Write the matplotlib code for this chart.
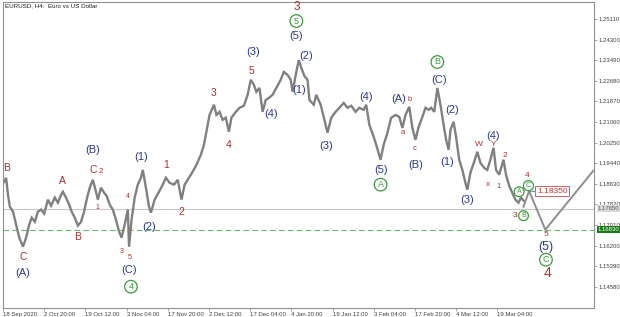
import matplotlib
matplotlib.use("Agg")
import matplotlib.pyplot as plt
import matplotlib.transforms as mtransforms

plt.rcParams['font.family'] = ['Liberation Sans', 'DejaVu Sans']

# H4 bar index (0 = 18 Sep 2020) and traced close prices
bars = [2, 5, 8, 11, 16, 21, 26, 32, 37, 42, 46, 51, 56, 61, 66, 72, 77, 83, 88, 93,
        96, 101, 106, 110, 115, 120, 125, 130, 134, 139, 144, 149, 152, 157, 162, 166,
        171, 176, 181, 186, 190, 195, 200, 202, 206, 211, 216, 221, 224, 229, 234, 237,
        243, 250, 256, 261, 267, 274, 280, 286, 291, 298, 304, 310, 317, 322, 326, 331,
        338, 342, 347, 352, 357, 362, 366, 373, 379, 386, 392, 397, 402, 406, 411, 416,
        421, 426, 432, 438, 445, 450, 456, 461, 464, 470, 474, 478, 483, 488, 491, 498,
        502, 509, 515, 520, 526, 533, 539, 546, 552, 558, 565, 571, 578, 582, 587, 594,
        598, 605, 610, 616, 622, 629, 635, 640, 645, 651, 656, 661, 666, 672, 677, 682,
        686, 691, 696, 701, 706, 710, 714, 717, 722, 726, 731, 736, 741, 744, 749, 755,
        760, 765, 771, 776, 781, 786, 790, 795, 802, 806, 811, 816, 821, 826, 830, 834]
close = [1.1871, 1.1887, 1.1820, 1.1773, 1.1754, 1.1703, 1.1652, 1.1616, 1.1652, 1.1703,
         1.1730, 1.1714, 1.1754, 1.1762, 1.1746, 1.1801, 1.1777, 1.1809, 1.1789, 1.1820,
         1.1832, 1.1809, 1.1781, 1.1754, 1.1730, 1.1699, 1.1714, 1.1754, 1.1801, 1.1848,
         1.1879, 1.1832, 1.1801, 1.1848, 1.1828, 1.1816, 1.1781, 1.1762, 1.1722, 1.1675,
         1.1652, 1.1703, 1.1762, 1.1616, 1.1722, 1.1809, 1.1860, 1.1887, 1.1918, 1.1848,
         1.1773, 1.1750, 1.1801, 1.1832, 1.1860, 1.1887, 1.1867, 1.1860, 1.1879, 1.1801,
         1.1860, 1.1887, 1.1911, 1.1938, 1.1977, 1.2017, 1.2068, 1.2134, 1.2174, 1.2134,
         1.2146, 1.2115, 1.2123, 1.2068, 1.2123, 1.2146, 1.2162, 1.2170, 1.2213, 1.2272,
         1.2252, 1.2225, 1.2240, 1.2146, 1.2193, 1.2201, 1.2213, 1.2240, 1.2272, 1.2303,
         1.2291, 1.2272, 1.2225, 1.2303, 1.2350, 1.2319, 1.2287, 1.2272, 1.2193, 1.2174,
         1.2213, 1.2174, 1.2115, 1.2064, 1.2123, 1.2146, 1.2162, 1.2181, 1.2162, 1.2170,
         1.2146, 1.2162, 1.2154, 1.2174, 1.2095, 1.2048, 1.2017, 1.1958, 1.2017, 1.2064,
         1.2123, 1.2134, 1.2126, 1.2083, 1.2134, 1.2166, 1.2083, 1.2036, 1.2087, 1.2126,
         1.2162, 1.2154, 1.2162, 1.2146, 1.2240, 1.2174, 1.2095, 1.2036, 1.1997, 1.2075,
         1.2107, 1.2048, 1.1958, 1.1918, 1.1867, 1.1840, 1.1907, 1.1950, 1.1989, 1.1946,
         1.1926, 1.1918, 1.1958, 1.2005, 1.1918, 1.1899, 1.1958, 1.1899, 1.1856, 1.1828,
         1.1801, 1.1789, 1.1809, 1.1797]

# forecast path
proj_x = [834, 843, 869, 946]
proj_y = [1.1773, 1.1835, 1.1683, 1.1915]

date_ticks = [0, 66, 132, 198, 264, 330, 396, 462, 528, 594, 660, 726, 792]
date_labels = ["18 Sep 2020", "2 Oct 20:00", "19 Oct 12:00", "3 Nov 04:00", "17 Nov 20:00",
               "2 Dec 12:00", "17 Dec 04:00", "4 Jan 20:00", "19 Jan 12:00", "3 Feb 04:00",
               "17 Feb 20:00", "4 Mar 12:00", "19 Mar 04:00"]
price_ticks = [1.25110, 1.24300, 1.23490, 1.22680, 1.21870, 1.21060, 1.20250, 1.19440,
               1.18630, 1.17820, 1.17010, 1.16200, 1.15390, 1.14580]

current_price = 1.1765
target_price = 1.1683
marked_price = 1.1835

# wave labels: (text, bar, price, size)
red_labels = [("B", 5, 1.1926, 7.5), ("C", 32, 1.1577, 7.5), ("A", 96, 1.1875, 7.5),
              ("B", 120, 1.1656, 7.5), ("C", 144, 1.1918, 7.5), ("2", 157, 1.1911, 5.5),
              ("1", 152, 1.1769, 5), ("4", 200, 1.1813, 5), ("3", 190, 1.1597, 5),
              ("5", 203, 1.1573, 5), ("1", 261, 1.1938, 7.5), ("2", 286, 1.1754, 7.5),
              ("3", 338, 1.2221, 7.5), ("4", 362, 1.2017, 7.5), ("5", 398, 1.2307, 7.5),
              ("3", 470, 1.2558, 8.5), ("a", 640, 1.2064, 5.5), ("b", 651, 1.2193, 5.5),
              ("c", 659, 1.2001, 5.5), ("W", 762, 1.2017, 6), ("x", 778, 1.1860, 6),
              ("Y", 786, 1.2017, 6), ("1", 794, 1.1852, 5.5), ("2", 805, 1.1973, 6),
              ("3", 821, 1.1738, 6), ("4", 840, 1.1895, 6), ("5", 870, 1.1663, 6),
              ("4", 872, 1.1514, 10)]
navy_labels = [("(A)", 32, 1.1514, 8), ("(B)", 144, 1.1997, 8), ("(C)", 202, 1.1526, 8),
               ("(1)", 222, 1.1969, 8), ("(2)", 234, 1.1695, 8), ("(3)", 400, 1.2382, 8),
               ("(4)", 429, 1.2138, 8), ("(5)", 470, 1.2444, 8), ("(2)", 485, 1.2366, 8),
               ("(1)", 474, 1.2232, 8), ("(3)", 517, 1.2013, 8), ("(4)", 581, 1.2205, 8),
               ("(5)", 605, 1.1918, 8), ("(A)", 634, 1.2197, 8), ("(B)", 661, 1.1938, 8),
               ("(C)", 698, 1.2272, 8), ("(2)", 720, 1.2154, 8), ("(1)", 712, 1.1950, 8),
               ("(3)", 744, 1.1801, 8), ("(4)", 786, 1.2052, 8), ("(5)", 870, 1.1616, 9)]
green_labels = [("4", 205, 1.1459, 6.5), ("5", 470, 1.2503, 6.5), ("A", 605, 1.1860, 6.5),
                ("B", 696, 1.2342, 6.5), ("A", 827, 1.1832, 5), ("B", 834, 1.1738, 5),
                ("C", 842, 1.1856, 5.5), ("C", 870, 1.1565, 6.5)]

RED = "#a8302c"
NAVY = "#2e3a8c"
GREEN = "#3d9a3d"

fig = plt.figure(figsize=(6.2, 3.17), dpi=100)
ax = fig.add_axes([3 / 620, 9 / 317, 591 / 620, 306 / 317])
ax.set_xlim(0, 947)
ax.set_ylim(1.13752, 1.25778)

ax.axhline(current_price, color="#c8c8c8", lw=0.8)
ax.axhline(target_price, color="#6cb86c", lw=0.8, dashes=(5, 3))

ax.plot(bars, close, color="#808080", lw=1.7, solid_joinstyle="miter")
ax.plot(proj_x, proj_y, color="#8c8c8c", lw=1.4)
ax.plot([845, 861], [marked_price, marked_price], color="#8c8c8c", lw=0.8)
ax.text(880, marked_price, "1.18350", color="#c0392b", fontsize=6, ha="center", va="center",
        bbox=dict(boxstyle="square,pad=0.2", fc="white", ec="#d06060", lw=0.7))

for t, x, y, s in red_labels:
    ax.text(x, y, t, color=RED, fontsize=s, ha="center", va="center")
for t, x, y, s in navy_labels:
    ax.text(x, y, t, color=NAVY, fontsize=s, ha="center", va="center")
for t, x, y, s in green_labels:
    ax.text(x, y, t, color=GREEN, fontsize=s, ha="center", va="center",
            bbox=dict(boxstyle="circle,pad=0.2", fc="white", ec=GREEN, lw=0.9))

ax.text(0.003, 0.997, "EURUSD, H4:  Euro vs US Dollar", transform=ax.transAxes,
        fontsize=4.5, va="top", ha="left", color="#202020")

ax.set_xticks(date_ticks)
ax.set_xticklabels(date_labels, fontsize=4.3, ha="left", color="#404040")
ax.yaxis.tick_right()
ax.set_yticks(price_ticks)
ax.set_yticklabels([f"{v:.5f}" for v in price_ticks], fontsize=4.3, color="#404040")
ax.tick_params(length=2, width=0.5, color="#808080", pad=1)

trans = mtransforms.blended_transform_factory(ax.transAxes, ax.transData)
ax.text(1.006, current_price, f"{current_price:.5f}", transform=trans, fontsize=4.3,
        color="#606060", va="center", ha="left",
        bbox=dict(boxstyle="square,pad=0.15", fc="#d8d8d8", ec="none"))
ax.text(1.006, target_price, f"{target_price:.5f}", transform=trans, fontsize=4.3,
        color="white", va="center", ha="left",
        bbox=dict(boxstyle="square,pad=0.15", fc="#1a7a1a", ec="none"))

for sp in ax.spines.values():
    sp.set_color("#909090")
    sp.set_linewidth(0.8)

fig.savefig("out.png", dpi=100)
